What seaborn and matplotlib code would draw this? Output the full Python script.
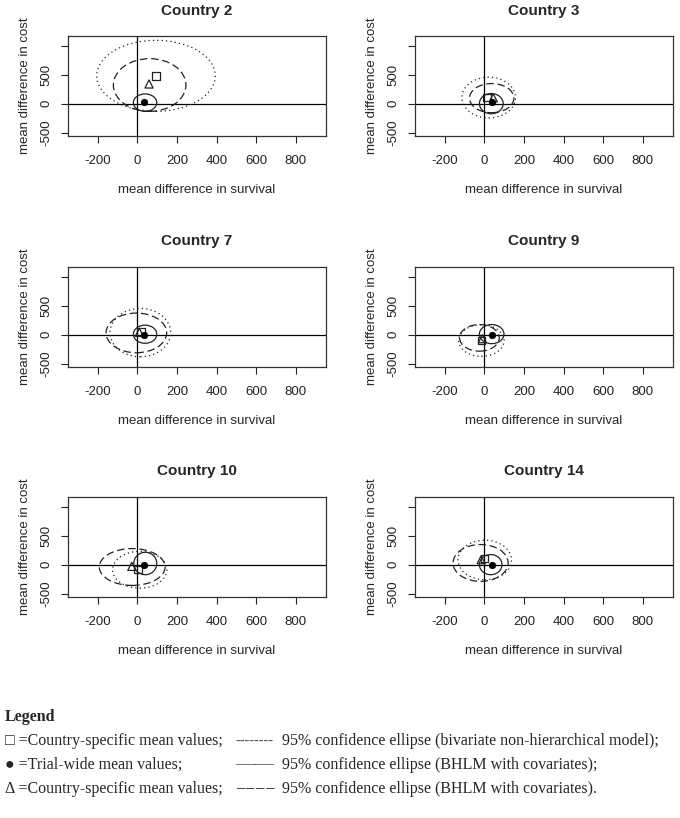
"""Cost-effectiveness plane: country-specific confidence ellipses."""

import matplotlib

matplotlib.use("Agg")
import matplotlib.pyplot as plt
import seaborn as sns
from matplotlib.patches import Ellipse

sns.set_style("ticks")
plt.rcParams["font.family"] = ["Liberation Sans", "DejaVu Sans"]

# panel titles
countries = ["Country 2", "Country 3", "Country 7", "Country 9", "Country 10", "Country 14"]

# trial-wide mean (filled dot)
trial_x = [35, 39, 35, 37, 35, 37]
trial_y = [23, 23, 0, 0, 0, 0]

# country-specific mean, bivariate non-hierarchical model (open square)
square_x = [93, 12, 18, -15, 2, 0]
square_y = [480, 105, 50, -100, -87, 104]

# country-specific mean, BHLM (open triangle)
tri_x = [59, 45, 10, -10, -28, -16]
tri_y = [340, 100, 40, -70, -30, 87]

# dotted ellipse: bivariate non-hierarchical model (centre, full width, full height)
dot_cx = [94, 22, 15, -15, 12, 2]
dot_cy = [481, 105, 35, -103, -88, 81]
dot_w = [598, 270, 306, 230, 274, 270]
dot_h = [1230, 706, 836, 546, 638, 684]

# solid ellipse: BHLM with covariates
sol_cx = [39, 35, 39, 37, 40, 32]
sol_cy = [17, 0, 7, 9, 20, 0]
sol_w = [118, 120, 118, 124, 116, 114]
sol_h = [302, 350, 314, 330, 388, 348]

# dashed ellipse: BHLM
das_cx = [62, 37, -5, -25, -26, -19]
das_cy = [322, 95, 30, -56, -41, 29]
das_w = [366, 224, 306, 200, 332, 278]
das_h = [912, 504, 686, 460, 638, 638]

x_ticks = [-200, 0, 200, 400, 600, 800]
y_ticks = [-500, 0, 500, 1000]
y_tick_labels = ["-500", "0", "500", ""]

W, H = 680, 818
fig = plt.figure(figsize=(W / 100, H / 100), dpi=100)

col_left = [68, 415]
row_top = [36, 267, 497]
box_w, box_h = 258, 100

for i, name in enumerate(countries):
    r, c = divmod(i, 2)
    ax = fig.add_axes(
        [col_left[c] / W, 1 - (row_top[r] + box_h) / H, box_w / W, box_h / H]
    )
    ax.axhline(0, color="black", lw=0.9, zorder=1)
    ax.axvline(0, color="black", lw=0.9, zorder=1)

    for cx, cy, w, h, ls in [
        (dot_cx[i], dot_cy[i], dot_w[i], dot_h[i], (0, (1, 2.5))),
        (das_cx[i], das_cy[i], das_w[i], das_h[i], (0, (6, 3))),
        (sol_cx[i], sol_cy[i], sol_w[i], sol_h[i], "-"),
    ]:
        ax.add_patch(
            Ellipse((cx, cy), w, h, fill=False, edgecolor="#222222", lw=0.9, linestyle=ls)
        )

    sns.scatterplot(x=[square_x[i]], y=[square_y[i]], marker="s", s=30,
                    facecolor="none", edgecolor="#222222", linewidth=0.9, ax=ax)
    sns.scatterplot(x=[tri_x[i]], y=[tri_y[i]], marker="^", s=34,
                    facecolor="none", edgecolor="#222222", linewidth=0.9, ax=ax)
    sns.scatterplot(x=[trial_x[i]], y=[trial_y[i]], marker="o", s=22,
                    color="black", edgecolor="black", linewidth=0.5, ax=ax)

    ax.set_xlim(-350, 952)
    ax.set_ylim(-560, 1170)
    ax.set_xticks(x_ticks)
    ax.set_xticklabels([str(t) for t in x_ticks])
    ax.set_yticks(y_ticks)
    ax.set_yticklabels(y_tick_labels, rotation=90, va="center", ha="right")
    ax.tick_params(axis="x", length=5, width=0.8, pad=9, labelsize=9.5, colors="#222222")
    ax.tick_params(axis="y", length=5, width=0.8, pad=6, labelsize=9.5, colors="#222222")
    for sp in ax.spines.values():
        sp.set_linewidth(0.9)
        sp.set_color("#333333")

    ax.set_xlabel("mean difference in survival", fontsize=9.5)
    ax.xaxis.set_label_coords(0.5, -0.54)
    ax.xaxis.label.set_va("center")
    ax.set_ylabel("mean difference in cost", fontsize=9.5)
    ax.yaxis.set_label_coords(-43 / box_w, 0.5)
    ax.yaxis.label.set_va("center")
    ax.text(0.5, 1.255, name, transform=ax.transAxes, ha="center", va="center",
            fontsize=11, fontweight="bold")

serif = ["Liberation Serif", "DejaVu Serif"]


def ftext(x, y, s, size=11.5, **kw):
    fig.text(x / W, 1 - y / H, s, family=serif, fontsize=size, va="center", **kw)


ftext(5, 717, "Legend", fontweight="bold")
ftext(5, 741, "\u25a1 =Country-specific mean values;")
ftext(235, 741, "--------", size=10.5, color="#555555")
ftext(282, 741, "95% confidence ellipse (bivariate non-hierarchical model);")
ftext(5, 765, "\u25cf =Trial-wide mean values;")
ftext(235, 765, "\u2014\u2014", size=14, color="#555555")
ftext(282, 765, "95% confidence ellipse (BHLM with covariates);")
ftext(5, 789, "\u0394 =Country-specific mean values;")
ftext(235, 789, "\u2212\u2212\u2212\u2212", size=13, color="#333333")
ftext(282, 789, "95% confidence ellipse (BHLM with covariates).")

fig.savefig("out.png", dpi=100)
